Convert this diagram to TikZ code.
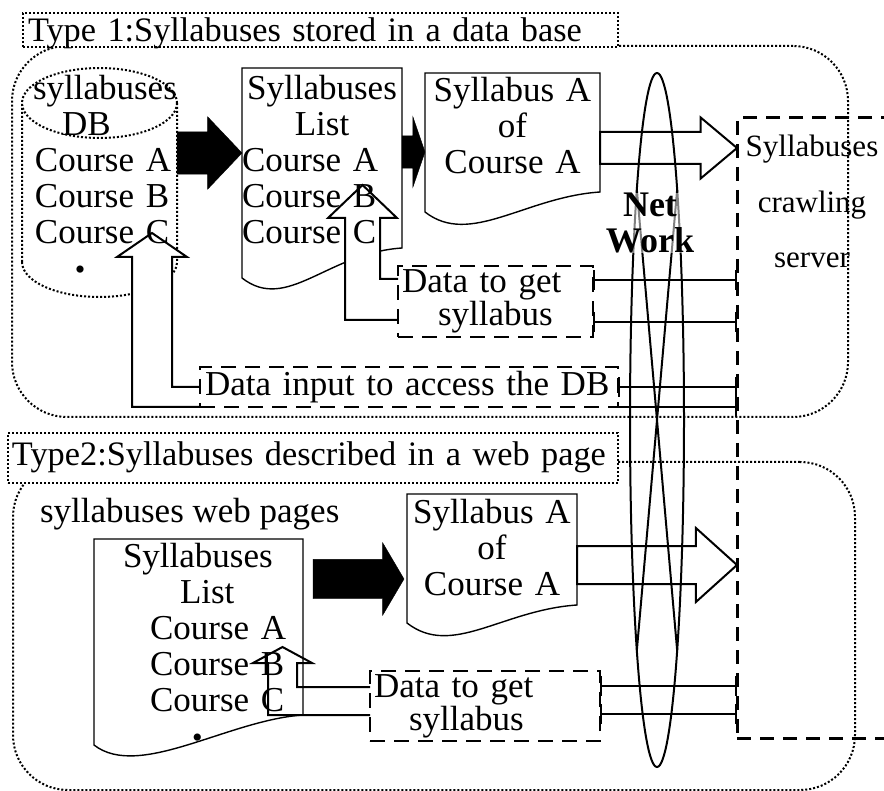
\documentclass[tikz,border=0pt]{standalone}
\usepackage{fontspec}
\setmainfont{Liberation Serif}
\usetikzlibrary{shapes.geometric,shapes.arrows,arrows.meta,positioning}
\pgfdeclarelayer{bg}
\pgfdeclarelayer{mid}
\pgfsetlayers{bg,mid,main}

\newcommand{\lft}[1]{\makebox[160pt][l]{#1}}
\newcommand{\dotmark}{{\fontsize{30}{30}\selectfont\textbullet}}
% wavy document outline around a frame node
\newcommand{\docwave}[2]{%
  \draw[docline] (#1.south west) .. controls +(45,-35) and +(-75,-5) .. ([yshift=#2pt]#1.south east)
    -- (#1.north east) -- (#1.north west) -- cycle;}

\tikzset{
  every node/.style={outer sep=0pt},
  bigfont/.style={font=\fontsize{35}{36}\selectfont},
  groupbox/.style={draw, dotted, line width=2pt, rounded corners=55pt, inner sep=0pt, anchor=north west},
  titlebox/.style={draw, dotted, line width=2pt, fill=white, inner ysep=0pt, font=\fontsize{34.3}{36}\selectfont,
    align=left, text height=24pt, anchor=north west},
  docframe/.style={inner sep=0pt, anchor=north west},
  docline/.style={line width=1.4pt},
  dbline/.style={dotted, line width=2pt},
  txt/.style={inner sep=0pt, bigfont},
  databox/.style={draw, line width=2pt, dash pattern=on 15pt off 9pt, inner xsep=4pt, inner ysep=0pt,
    font=\fontsize{35}{33}\selectfont, align=left, anchor=north west},
  server/.style={draw, line width=3pt, dash pattern=on 14pt off 9pt, inner sep=0pt, anchor=north west},
  blackarrow/.style={single arrow, draw, fill=black, inner xsep=0pt, anchor=tail},
  hollowarrow/.style={single arrow, draw, line width=2pt, inner xsep=0pt, anchor=tail},
  bentarrow/.style={draw, line width=2pt, line join=miter},
  link/.style={line width=2pt, {Bar[width=20pt]}-{Bar[width=20pt]}},
  linkend/.style={line width=2pt, -{Bar[width=20pt]}},
  netline/.style={line width=2pt}
}

\begin{document}
\begin{tikzpicture}[x=1pt,y=1pt]
    \useasboundingbox (0,0) rectangle (884,-791);

    % Group frames
    \begin{pgfonlayer}{bg}
    \node [groupbox, minimum width=836pt, minimum height=371pt] (grp1) at (12,-46) {};
    \node [groupbox, minimum width=842pt, minimum height=328pt] (grp2) at (13,-462) {};
    \end{pgfonlayer}

    % Titles
    \node [titlebox, text depth=0pt, minimum height=34pt, text width=585pt, inner xsep=5pt] (title1) at (23,-13) {Type 1:Syllabuses stored in a data base};
    \node [titlebox, text depth=8pt, minimum height=50pt, text width=602pt, inner xsep=4pt] (title2) at (8,-433) {\mbox{Type2:Syllabuses described in a web page}};

    % Place document frames
    \node [docframe, minimum width=155pt, minimum height=159pt] (db) at (22,-103) {};
    \node [docframe, minimum width=160pt, minimum height=210pt] (list1) at (242,-68) {};
    \node [docframe, minimum width=175pt, minimum height=139pt] (syllA1) at (425,-73) {};
    \node [docframe, minimum width=209pt, minimum height=206pt] (list2) at (94,-539) {};
    \node [docframe, minimum width=170pt, minimum height=129pt] (syllA2) at (407,-494) {};

    % Texts
    \node [txt, text width=155pt, align=left, anchor=base west] (dbtxt) at (22,-100)
        {\hspace*{11pt}syllabuses\\\hspace*{40pt}DB\\\hspace*{13pt}Course A\\\hspace*{13pt}Course B\\\hspace*{13pt}Course C\\\hspace*{53pt}\dotmark};
    \node [txt, text width=160pt, align=center, anchor=base west] (list1txt) at (242,-100)
        {Syllabuses\\List\\\lft{Course A}\\\lft{Course B}\\\lft{Course C}};
    \node [txt, text width=175pt, align=center, anchor=base] (syllA1txt) at (512.5,-102) {Syllabus A\\of\\Course A};
    \node [txt, anchor=base west] (webtxt) at (40,-522) {syllabuses web pages};
    \node [txt, text width=209pt, align=left, anchor=base west] (list2txt) at (94,-567)
        {\hspace*{29pt}Syllabuses\\\hspace*{86pt}List\\\hspace*{56pt}Course A\\\hspace*{56pt}Course B\\\hspace*{56pt}Course C\\\hspace*{98pt}\dotmark};
    \node [txt, text width=170pt, align=center, anchor=base] (syllA2txt) at (492,-523) {Syllabus A\\of\\Course A};

    % Data boxes and server
    \node [databox, text width=187pt, minimum height=71pt] (data1) at (398,-266) {Data to get\\\hspace*{36pt}syllabus};
    \node [databox, text width=408pt, minimum height=40pt, inner xsep=5pt] (dinput) at (200,-367) {Data input to access the DB};
    \node [databox, text width=222pt, minimum height=70pt] (data2) at (370,-671) {Data to get\\\hspace*{35pt}syllabus};
    \node [server, minimum width=160pt, minimum height=620pt] (srv) at (737,-118) {};
    \node [txt, font=\fontsize{31}{55.5}\selectfont, text width=150pt, align=center, anchor=base] (srvtxt) at (812,-157) {Syllabuses\\crawling\\server};

    % Black arrows
    \node [blackarrow, minimum height=65pt, inner ysep=21pt, single arrow head extend=15pt, single arrow tip angle=93] (a1) at (177,-153) {};
    \node [blackarrow, minimum height=23pt, inner ysep=16pt, single arrow head extend=19pt, single arrow tip angle=142] (a2) at (402,-152) {};
    \node [blackarrow, minimum height=91pt, inner ysep=19.5pt, single arrow head extend=16.5pt, single arrow tip angle=119] (a3) at (313,-579) {};

    \begin{pgfonlayer}{mid}
    % Draw outlines
    \draw [dbline] (db.south west) -- (db.north west) (db.north) ellipse [x radius=77.5, y radius=35]
        (db.north east) -- (db.south east) arc [start angle=0, end angle=-180, x radius=77.5, y radius=35];
    \docwave{list1}{30}
    \docwave{syllA1}{20}
    \docwave{list2}{30}
    \docwave{syllA2}{18}

    % Bent arrows back to the sources
    \draw [bentarrow, fill=white] ([yshift=17pt]data1.south west) -- ++(-53,0) -- ++(0,102) -- ++(-17,0)
        -- ++(34.5,33) -- ++(34.5,-33) -- ++(-17,0) -- ++(0,-61) -- ++(18,0);
    \draw [bentarrow, fill=white] (dinput.south west) -- ++(-68,0) -- ++(0,150) -- ++(-15,0)
        -- ++(35,24) -- ++(35,-24) -- ++(-15,0) -- ++(0,-130) -- ++(28,0);
    \draw [bentarrow] ([yshift=26pt]data2.south west) -- ++(-102,0) -- ++(0,52) -- ++(-15,0)
        -- ++(29.5,16) -- ++(29.5,-16) -- ++(-15,0) -- ++(0,-24) -- ++(73,0);

    % Hollow arrows to the server
    \node [hollowarrow, minimum height=137pt, inner ysep=15pt, single arrow head extend=14.5pt, single arrow tip angle=80] (h1) at (600,-148) {};
    \node [hollowarrow, minimum height=160pt, inner ysep=18pt, single arrow head extend=18pt, single arrow tip angle=84] (h2) at (577,-565) {};

    % Network
    \node [ellipse, draw, line width=2pt, minimum width=54pt, minimum height=694pt, inner sep=0pt] (net) at (657,-420) {};
    \draw [netline] (net.95) -- (net.-85) (net.85) -- (net.-95);

    % Links to the server
    \coordinate (d1a) at ([yshift=21.5pt]data1.east);
    \coordinate (d1b) at ([yshift=-20.5pt]data1.east);
    \coordinate (d2a) at ([yshift=20pt]data2.east);
    \coordinate (d2b) at ([yshift=-8pt]data2.east);
    \draw [link] (d1a) -- (d1a -| srv.west);
    \draw [link] (d1b) -- (d1b -| srv.west);
    \draw [link] (dinput.east) -- (dinput.east -| srv.west);
    \draw [linkend] (dinput.south east) -- (dinput.south east -| srv.west);
    \draw [link] (d2a) -- (d2a -| srv.west);
    \draw [link] (d2b) -- (d2b -| srv.west);
    \end{pgfonlayer}

    \node [txt, font=\fontsize{36}{36}\selectfont\bfseries, align=center, fill=white, fill opacity=0.5, text opacity=1] (nettxt) at (650,-223) {Net\\Work};
\end{tikzpicture}
\end{document}
